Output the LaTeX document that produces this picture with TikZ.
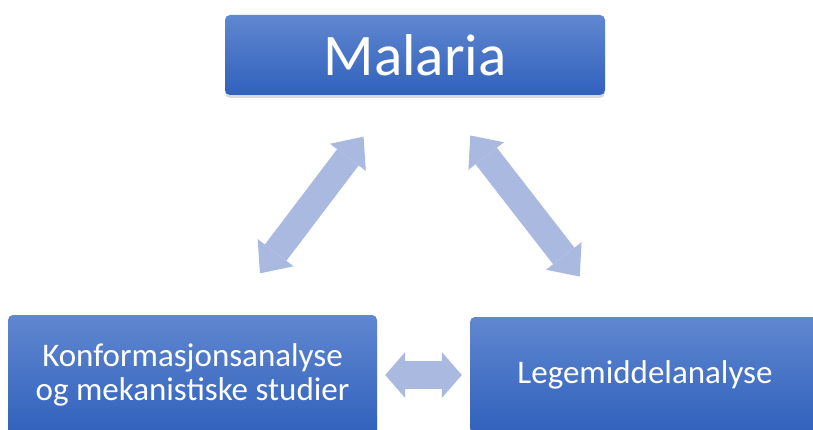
\documentclass[tikz,border=0pt]{standalone}
\usepackage{fontspec}
\setmainfont{Carlito}
\usetikzlibrary{arrows.meta,shadows}

\definecolor{bokstopp}{RGB}{96,135,208}
\definecolor{boksbunn}{RGB}{48,97,188}
\definecolor{pilfarge}{RGB}{170,185,223}

\tikzset{
  blokk/.style={rectangle, rounded corners=5pt, draw=none, top color=bokstopp, bottom color=boksbunn,
    text=white, align=center, inner sep=0pt,
    drop shadow={shadow xshift=0pt, shadow yshift=-3pt, opacity=0.3}},
  pil/.style n args={3}{line width=#1, draw=pilfarge,
    {Triangle[length=#2, width=#3, line width=0pt]}-{Triangle[length=#2, width=#3, line width=0pt]}},
}

\begin{document}
\begin{tikzpicture}[x=1pt,y=1pt,yscale=-1]
    \useasboundingbox (0,0) rectangle (813,430);
    \clip (0,0) rectangle (813,430);
    % boksene
    \node [blokk, minimum width=380pt, minimum height=80pt, font=\fontsize{59}{70}\selectfont] (malaria) at (415,55) {Malaria};
    \node [blokk, minimum width=369pt, minimum height=120pt, font=\fontsize{33}{34}\selectfont] (konf) at (192.5,375) {Konformasjonsanalyse\\og mekanistiske studier};
    \node [blokk, minimum width=350pt, minimum height=116pt, font=\fontsize{33}{34}\selectfont] (lege) at (645,375) {Legemiddelanalyse};
    % pilene
    \draw [pil={27pt}{26pt}{45pt}, shorten <=52pt, shorten >=52pt] ([xshift=-20pt]malaria.south) -- ([xshift=36pt]konf.north);
    \draw [pil={27pt}{26pt}{45pt}, shorten <=51pt, shorten >=51pt] ([xshift=24pt]malaria.south) -- ([xshift=-34pt]lege.north);
    \draw [pil={28pt}{20pt}{46pt}, shorten <=8pt, shorten >=8pt] (konf.east) -- (lege.west);
\end{tikzpicture}
\end{document}
